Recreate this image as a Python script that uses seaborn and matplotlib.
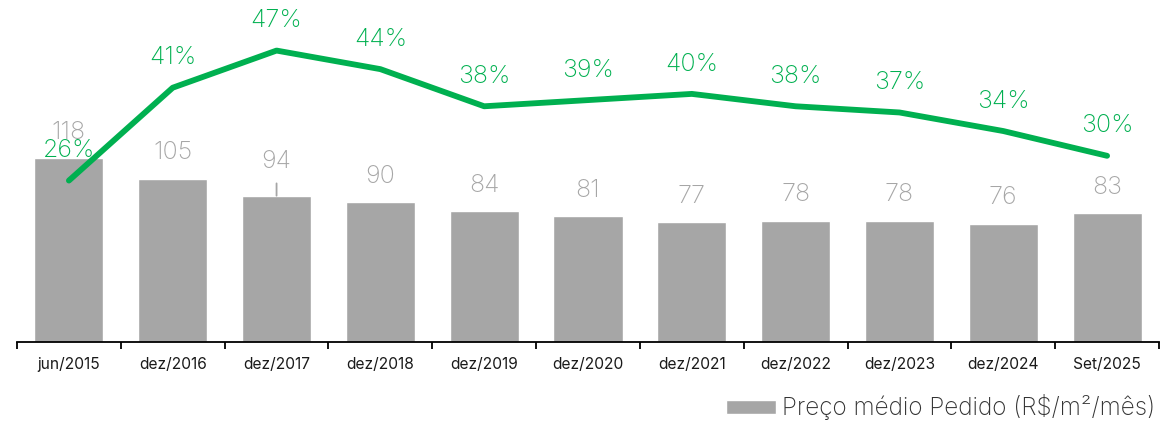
import matplotlib
matplotlib.use("Agg")
import matplotlib.pyplot as plt
import seaborn as sns
import pandas as pd
import numpy as np

categories = ["jun/2015", "dez/2016", "dez/2017", "dez/2018", "dez/2019", "dez/2020",
              "dez/2021", "dez/2022", "dez/2023", "dez/2024", "Set/2025"]
preco = [118, 105, 94, 90, 84, 81, 77, 78, 78, 76, 83]
pct = [26, 41, 47, 44, 38, 39, 40, 38, 37, 34, 30]
legend_label = "Preço médio Pedido (R$/m²/mês)"

sns.set_theme(style="white")
plt.rcParams["font.family"] = ["Inter", "DejaVu Sans"]

df = pd.DataFrame({"cat": categories, "preco": preco, "pct": pct})

fig = plt.figure(figsize=(11.6, 4.23), dpi=100)
ax = fig.add_axes([17 / 1160, (423 - 341.5) / 423, (1159 - 17) / 1160, 341.5 / 423])

bar_color = "#A6A6A6"
green = "#00B050"

sns.barplot(data=df, x="cat", y="preco", color=bar_color, width=0.665,
            saturation=1, ax=ax, label=legend_label)
ax.set_xlim(-0.5, len(categories) - 0.5)
ax.set_ylim(0, 341.5 / 1.551)

for i, v in enumerate(preco):
    if i == 2:
        ax.annotate(str(v), xy=(i, v), xytext=(0, 24.5), textcoords="offset points",
                    ha="center", va="center", fontsize=18, color=bar_color,
                    fontweight="light",
                    arrowprops=dict(arrowstyle="-", color=bar_color, lw=1.3,
                                    shrinkA=5, shrinkB=0))
    else:
        ax.annotate(str(v), xy=(i, v), xytext=(0, 18.5), textcoords="offset points",
                    ha="center", va="center", fontsize=18, color=bar_color,
                    fontweight="light")

ax2 = ax.twinx()
ax2.plot(np.arange(len(pct)), pct, color=green, lw=4.2, solid_capstyle="round")
ax2.set_ylim(0, 341.5 / 6.19)
for i, v in enumerate(pct):
    ax2.annotate(f"{v}%", xy=(i, v), xytext=(0, 21.5), textcoords="offset points",
                 ha="center", va="center", fontsize=18, color=green, fontweight="light")

for a in (ax, ax2):
    for s in ["top", "right", "left"]:
        a.spines[s].set_visible(False)
    a.set_yticks([])
    a.set_ylabel("")
ax2.spines["bottom"].set_visible(False)

ax.spines["bottom"].set_color("black")
ax.spines["bottom"].set_linewidth(1.3)
ax.set_xlabel("")
ax.set_xticks(np.arange(len(categories)))
ax.set_xticklabels(categories, fontsize=11.2, fontweight="normal", color="#1a1a1a")
ax.tick_params(axis="x", which="major", length=0, pad=11)
ax.set_xticks(np.arange(-0.5, len(categories), 1.0), minor=True)
ax.tick_params(axis="x", which="minor", length=5, width=1.3, color="black", direction="out")
ax.xaxis.set_ticks_position("bottom")

handles, labels = ax.get_legend_handles_labels()
leg = ax.legend(handles, labels, loc="lower right", bbox_to_anchor=(1.0, -0.005),
                bbox_transform=fig.transFigure, frameon=False, fontsize=17.5,
                handlelength=2.05, handleheight=0.5, handletextpad=0.25,
                borderaxespad=0.0, borderpad=0.2)
for t in leg.get_texts():
    t.set_color("#333333")
    t.set_fontweight("light")

fig.savefig("out.png", dpi=100)
